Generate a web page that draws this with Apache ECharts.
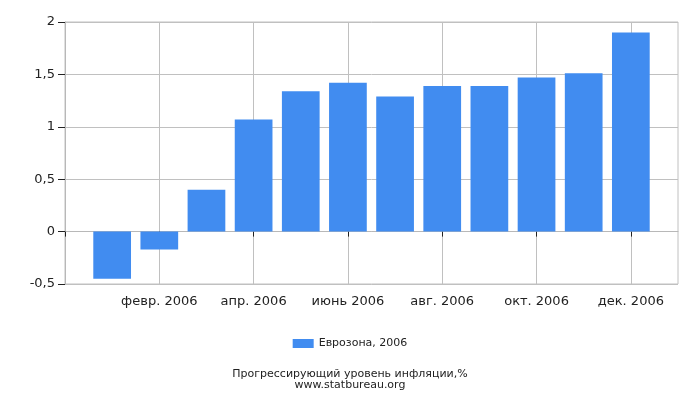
<!DOCTYPE html>
<html><head><meta charset="utf-8">
<script src="https://cdn.jsdelivr.net/npm/echarts@6/dist/echarts.min.js"></script>
<style>html,body{margin:0;padding:0;background:#fff}#c{width:700px;height:400px}</style>
</head><body><div id="c"></div>
<script>
var months = ['янв. 2006','февр. 2006','март 2006','апр. 2006','май 2006','июнь 2006','июль 2006','авг. 2006','сент. 2006','окт. 2006','нояб. 2006','дек. 2006'];
var values = [-0.45, -0.17, 0.40, 1.07, 1.34, 1.42, 1.29, 1.39, 1.39, 1.47, 1.51, 1.90];
var yTicks = [-0.5, 0, 0.5, 1, 1.5, 2];
var seriesName = 'Еврозона, 2006';
var titleLines = ['Прогрессирующий уровень инфляции,%', 'www.statbureau.org'];

var cats = [''].concat(months).concat(['']);
var data = [null].concat(values).concat([null]);
function showIdx(i){ return i % 2 === 0 && i <= 12; }
var chart = echarts.init(document.getElementById('c'), null, {renderer:'canvas'});
chart.setOption({
  animation:false,
  grid:{left:65, right:22, top:22, bottom:116, show:true, borderColor:'#c0c0c0', borderWidth:1, backgroundColor:'transparent'},
  title:{text:titleLines.join('\n'), left:'center', top:364,
    textStyle:{fontFamily:'DejaVu Sans', fontSize:11, fontWeight:'normal', color:'#222', lineHeight:11}},
  legend:{data:[seriesName], left:'center', top:333, itemWidth:21, itemHeight:9, itemGap:5, icon:'rect',
    textStyle:{fontFamily:'DejaVu Sans', fontSize:11, color:'#222'}},
  xAxis:{type:'category', data:cats, boundaryGap:false,
    axisLine:{show:true, lineStyle:{color:'#b8b8b8'}},
    axisTick:{show:true, length:5, interval:function(i){return showIdx(i);}, lineStyle:{color:'#222'}},
    axisLabel:{interval:function(i){return showIdx(i) && i>0;}, margin:11, fontFamily:'DejaVu Sans', fontSize:13, color:'#222'},
    splitLine:{show:true, interval:function(i){return showIdx(i);}, lineStyle:{color:'#c0c0c0'}}
  },
  yAxis:{type:'value', min:yTicks[0], max:yTicks[yTicks.length-1], interval:0.5,
    axisLine:{show:true, lineStyle:{color:'#b8b8b8'}},
    axisTick:{show:true, length:7, lineStyle:{color:'#222'}},
    axisLabel:{margin:10, fontFamily:'DejaVu Sans', fontSize:13, color:'#222',
      formatter:function(v){return String(v).replace('.', ',');}},
    splitLine:{show:true, lineStyle:{color:'#c0c0c0'}}
  },
  series:[{name:seriesName, type:'bar', data:data, barWidth:'80%', itemStyle:{color:'#418cf0'}}]
});
</script></body></html>
